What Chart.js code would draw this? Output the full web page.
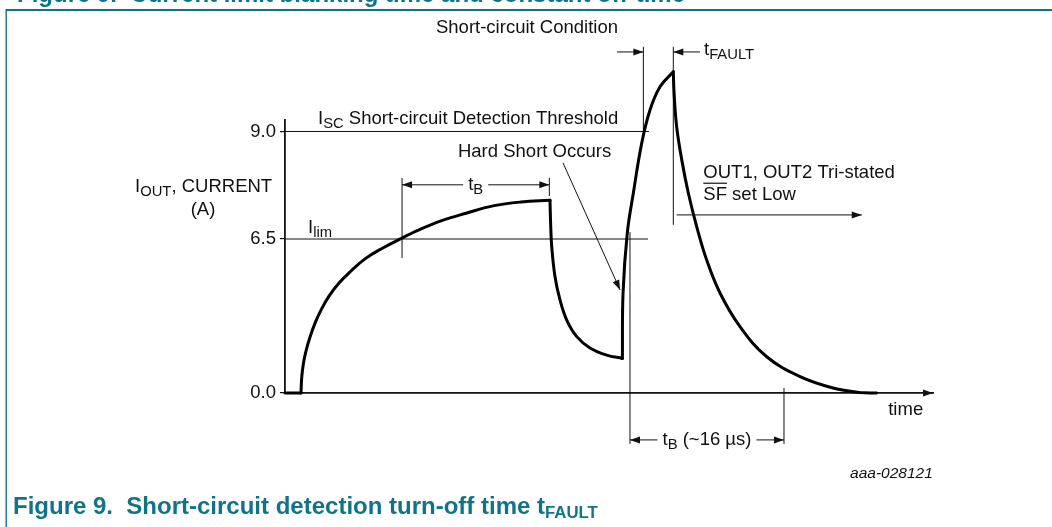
<!DOCTYPE html>
<html>
<head>
<meta charset="utf-8">
<title>Figure 9. Short-circuit detection turn-off time</title>
<script src="https://cdn.jsdelivr.net/npm/chart.js@4.4.1/dist/chart.umd.min.js"></script>
<style>
  html, body { margin: 0; background: #fff; overflow: hidden; }
  canvas { display: block; }
</style>
</head>
<body>
<canvas id="fig" width="1052" height="527"></canvas>
<script>
// output current trace, time in µs from the y axis, current in A (schematic)
// one array pair per phase so every phase stays a smooth curve with sharp joins
const idleUs = [0, 1.66];
const idleA = [0, 0];
const riseUs = [1.66, 1.74, 1.92, 2.18, 2.60, 3.12, 3.74, 4.57, 5.61, 6.86, 8.31, 9.97, 12.05, 13.92, 16.21, 18.81, 21.61, 24.52, 27.53];
const riseA = [0, 0.675, 1.27, 1.77, 2.36, 2.95, 3.50, 4.09, 4.64, 5.15, 5.66, 6.08, 6.51, 6.71, 6.92, 7.10, 7.27, 7.36, 7.40];
const offUs = [27.53, 27.60, 27.71, 28.05, 28.57, 29.27, 30.31, 31.69, 33.42, 35.05];
const offA = [7.40, 6.83, 6.18, 4.91, 3.93, 3.08, 2.38, 1.90, 1.60, 1.46];
const shortUs = [35.05, 35.12, 35.56, 36.19, 37.06, 37.92, 38.96, 40.34];
const shortA = [1.46, 4.22, 6.64, 7.57, 8.73, 9.50, 10.04, 10.39];
const faultUs = [40.34, 40.42, 40.69, 41.22, 41.90, 42.77, 43.81, 45.19, 47.27, 50.05, 53.51, 56.94, 59.74, 61.47];
const faultA = [10.39, 9.90, 9.11, 8.34, 7.57, 6.79, 5.61, 4.22, 2.80, 1.53, 0.69, 0.21, 0.02, 0];

const yTickValues = [0, 6.5, 9.0];
const iscThreshold = 9.0;   // I_SC
const iLimit = 6.5;         // I_lim
const iscLineEnd = 37.82;
const ilimLineEnd = 37.71;

// thin vertical markers
const markerX = [12.16, 27.46, 35.84, 37.23, 40.34, 51.84];
const markerTop = [7.92, 7.92, 6.66, 10.97, 10.97, 0.21];
const markerBottom = [5.70, 7.50, -2.15, 8.80, 6.83, -2.15];

// dimension arrows (arrowheads at both ends, label in the gap)
const dimArrows = [
  { t0: 12.16, t1: 27.46, a: 7.76, parts: [['t'], ['B', 1]] },
  { t0: 35.84, t1: 51.84, a: -1.98, parts: [['t'], ['B', 1], [' (~16 µs)']] }
];
// single arrows: from -> to (head at "to")
const leaders = [
  { from: [34.49, 10.85], to: [37.23, 10.85] },
  { from: [43.12, 10.85], to: [40.34, 10.85] },
  { from: [40.69, 7.06], to: [59.92, 7.06] },
  { from: [28.88, 8.27], to: [34.81, 4.35] }
];
// text notes: 1 = subscript, 2 = overline
const notes = [
  { t: 25.14, a: 11.29, align: 'center', parts: [['Short-circuit Condition']] },
  { t: 43.53, a: 10.78, parts: [['t'], ['FAULT', 1]] },
  { t: 3.43, a: 9.17, parts: [['I'], ['SC', 1], [' Short-circuit Detection Threshold']] },
  { t: 17.97, a: 8.41, parts: [['Hard Short Occurs']] },
  { t: 2.39, a: 6.64, parts: [['I'], ['lim', 1]] },
  { t: 43.46, a: 7.92, parts: [['OUT1, OUT2 Tri-stated']] },
  { t: 43.46, a: 7.41, parts: [['SF', 2], [' set Low']] },
  { t: 66.3, a: -0.93, align: 'right', parts: [['time']] },
  { t: -15.58, a: 7.60, parts: [['I'], ['OUT', 1], [', CURRENT']] },
  { t: -8.52, a: 7.06, align: 'center', parts: [['(A)']] }
];
const figureId = { t: 67.3, a: -3.58, text: 'aaa-028121' };

const FONT = "'Liberation Sans', Arial, sans-serif";
const TEAL = '#0f7488';
const INK = '#111';
const SIZE = 18.5;

// the y axis of the drawing is not linear: each labelled level sits at its own height
const yStops = [[0, 0], [6.5, 0.5641], [9.0, 0.9579]];

class PiecewiseScale extends Chart.LinearScale {
  decimalOf(v) {
    let i = 0;
    while (i < yStops.length - 2 && v > yStops[i + 1][0]) i++;
    const [v0, d0] = yStops[i], [v1, d1] = yStops[i + 1];
    return d0 + (v - v0) * (d1 - d0) / (v1 - v0);
  }
  getPixelForValue(v) {
    return v == null ? NaN : this.getPixelForDecimal(this.decimalOf(v));
  }
  getValueForPixel(p) {
    const d = this.getDecimalForPixel(p);
    let i = 0;
    while (i < yStops.length - 2 && d > yStops[i + 1][1]) i++;
    const [v0, d0] = yStops[i], [v1, d1] = yStops[i + 1];
    return v0 + (d - d0) * (v1 - v0) / (d1 - d0);
  }
}
PiecewiseScale.id = 'piecewise';
PiecewiseScale.defaults = Chart.LinearScale.defaults;
Chart.register(PiecewiseScale);

function drawParts(ctx, parts, x, y, align, size, weight, subScale) {
  const sub = size * (subScale || 0.8);
  const font = (s) => `${weight || ''} ${s}px ${FONT}`;
  const widths = parts.map(p => { ctx.font = font(p[1] === 1 ? sub : size); return ctx.measureText(p[0]).width; });
  const total = widths.reduce((s, w) => s + w, 0);
  let cx = align === 'center' ? x - total / 2 : align === 'right' ? x - total : x;
  ctx.textAlign = 'left';
  ctx.textBaseline = 'alphabetic';
  parts.forEach((p, i) => {
    ctx.font = font(p[1] === 1 ? sub : size);
    ctx.fillText(p[0], cx, y + (p[1] === 1 ? 4 : 0));
    if (p[1] === 2) {
      ctx.beginPath();
      ctx.lineWidth = 1.2;
      ctx.moveTo(cx, y - size * 0.9);
      ctx.lineTo(cx + widths[i], y - size * 0.9);
      ctx.stroke();
    }
    cx += widths[i];
  });
  return total;
}

function head(ctx, x, y, ang) {
  const len = 10, half = 3.5;
  ctx.beginPath();
  ctx.moveTo(x, y);
  ctx.lineTo(x - len * Math.cos(ang) + half * Math.sin(ang), y - len * Math.sin(ang) - half * Math.cos(ang));
  ctx.lineTo(x - len * Math.cos(ang) - half * Math.sin(ang), y - len * Math.sin(ang) + half * Math.cos(ang));
  ctx.closePath();
  ctx.fill();
}

function line(ctx, x0, y0, x1, y1) {
  ctx.beginPath();
  ctx.moveTo(x0, y0);
  ctx.lineTo(x1, y1);
  ctx.stroke();
}

const annotate = {
  id: 'annotate',
  afterDatasetsDraw(chart) {
    const { ctx, chartArea: area } = chart;
    const X = v => chart.scales.x.getPixelForValue(v);
    const Y = v => chart.scales.y.getPixelForValue(v);
    ctx.save();
    ctx.strokeStyle = INK;
    ctx.fillStyle = INK;
    ctx.lineWidth = 1;

    // arrow at the end of the time axis
    head(ctx, area.right, area.bottom, 0);

    dimArrows.forEach(d => {
      const x0 = X(d.t0), x1 = X(d.t1), y = Y(d.a);
      const mid = (x0 + x1) / 2;
      const w = drawParts(ctx, d.parts, mid, y + 5, 'center', SIZE);
      ctx.lineWidth = 1;
      line(ctx, x0, y, mid - w / 2 - 5, y);
      line(ctx, mid + w / 2 + 5, y, x1, y);
      head(ctx, x0, y, Math.PI);
      head(ctx, x1, y, 0);
    });

    leaders.forEach(l => {
      const x0 = X(l.from[0]), y0 = Y(l.from[1]), x1 = X(l.to[0]), y1 = Y(l.to[1]);
      ctx.lineWidth = 1;
      line(ctx, x0, y0, x1, y1);
      head(ctx, x1, y1, Math.atan2(y1 - y0, x1 - x0));
    });

    notes.forEach(n => drawParts(ctx, n.parts, X(n.t), Y(n.a), n.align || 'left', SIZE));

    ctx.font = `italic 15.5px ${FONT}`;
    ctx.textAlign = 'right';
    ctx.fillText(figureId.text, X(figureId.t), Y(figureId.a));
    ctx.restore();
  },
  afterDraw(chart) {
    const ctx = chart.ctx;
    ctx.save();
    ctx.fillStyle = TEAL;
    ctx.fillRect(6, 9, chart.width - 6, 2);
    ctx.fillRect(5.5, 9, 1.4, chart.height - 9);
    ctx.font = `bold 24px ${FONT}`;
    ctx.textAlign = 'left';
    ctx.textBaseline = 'alphabetic';
    ctx.fillText('Figure 9.  Current limit blanking time and constant off-time', 17, 2);
    drawParts(ctx, [['Figure 9.  Short-circuit detection turn-off time t'], ['FAULT', 1]], 13, 514, 'left', 24, 'bold', 0.7);
    ctx.restore();
  }
};

const toPoints = (ts, as) => ts.map((t, i) => ({ x: t, y: as[i] }));
const markers = markerX.flatMap((t, i) => [
  { x: t, y: markerBottom[i] }, { x: t, y: markerTop[i] }, { x: t, y: null }
]);

const trace = (label, ts, as) => ({
  label,
  data: toPoints(ts, as),
  borderColor: '#000',
  borderWidth: 3,
  borderCapStyle: 'round',
  pointRadius: 0,
  tension: 0.4,
  clip: false
});
const thin = (label, data) => ({
  label,
  data,
  borderColor: INK,
  borderWidth: 1,
  pointRadius: 0,
  tension: 0,
  spanGaps: false,
  clip: false
});

new Chart(document.getElementById('fig'), {
  type: 'line',
  data: {
    datasets: [
      trace('idle', idleUs, idleA),
      trace('rise to I_lim', riseUs, riseA),
      trace('current limit off-time', offUs, offA),
      trace('hard short', shortUs, shortA),
      trace('fault turn-off', faultUs, faultA),
      thin('I_SC', [{ x: 0, y: iscThreshold }, { x: iscLineEnd, y: iscThreshold }]),
      thin('I_lim', [{ x: 0, y: iLimit }, { x: ilimLineEnd, y: iLimit }]),
      thin('markers', markers)
    ]
  },
  options: {
    responsive: false,
    animation: false,
    devicePixelRatio: 1,
    events: [],
    layout: { padding: { left: 0, top: 120, right: 119, bottom: 114 } },
    plugins: { legend: { display: false }, tooltip: { enabled: false } },
    scales: {
      x: {
        type: 'linear',
        min: 0,
        max: 67.32,
        ticks: { display: false },
        grid: { display: false },
        border: { display: true, color: INK, width: 1.8 },
        afterFit(s) { s.height = 20; }
      },
      y: {
        type: 'piecewise',
        min: 0,
        max: 9.267,
        ticks: {
          autoSkip: false,
          padding: 4,
          color: INK,
          font: { size: SIZE, family: FONT },
          callback: v => Number(v).toFixed(1)
        },
        grid: { drawOnChartArea: false, drawTicks: true, tickLength: 5, color: INK, lineWidth: 1.2 },
        border: { display: true, color: INK, width: 1.8 },
        afterBuildTicks(s) { s.ticks = yTickValues.map(v => ({ value: v })); },
        afterFit(s) { s.width = 285; }
      }
    }
  },
  plugins: [annotate]
});
</script>
</body>
</html>
